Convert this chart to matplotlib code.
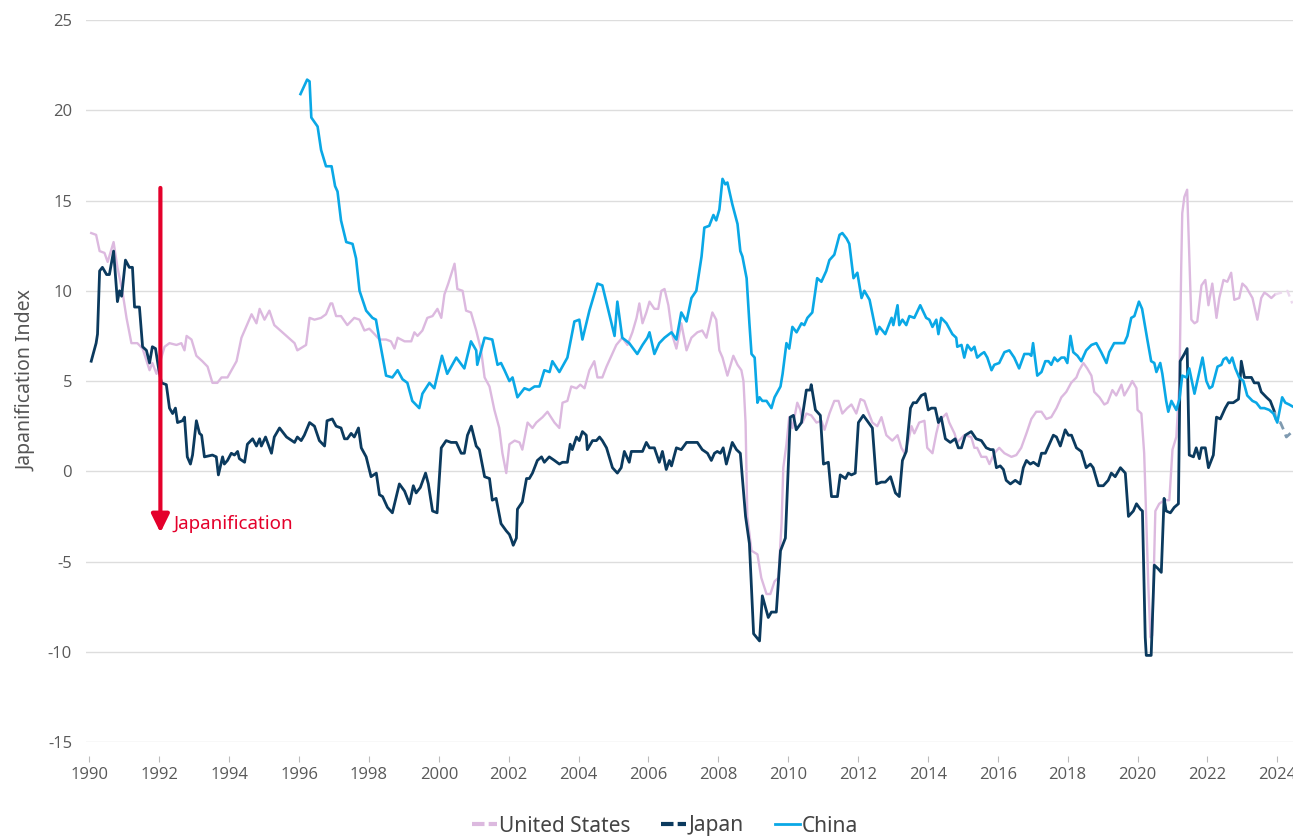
import matplotlib.pyplot as plt
from matplotlib.lines import Line2D

# readings (decimal year, index value)
us_dates = [1990.05, 1990.19, 1990.29, 1990.43, 1990.52, 1990.69, 1990.80, 1990.94, 1991.06, 1991.20,
            1991.37, 1991.52, 1991.72, 1991.80, 1991.92, 1992.15, 1992.29, 1992.49, 1992.63, 1992.72,
            1992.78, 1992.92, 1993.06, 1993.23, 1993.38, 1993.52, 1993.66, 1993.78, 1993.95, 1994.21,
            1994.35, 1994.64, 1994.78, 1994.87, 1995.01, 1995.15, 1995.29, 1995.58, 1995.87, 1995.95,
            1996.20, 1996.30, 1996.44, 1996.63, 1996.77, 1996.90, 1996.95, 1997.06, 1997.20, 1997.38,
            1997.58, 1997.73, 1997.87, 1998.01, 1998.16, 1998.30, 1998.49, 1998.63, 1998.73, 1998.82,
            1999.02, 1999.21, 1999.30, 1999.39, 1999.53, 1999.67, 1999.82, 1999.96, 2000.07, 2000.16,
            2000.27, 2000.45, 2000.53, 2000.68, 2000.78, 2000.92, 2001.07, 2001.21, 2001.31, 2001.45,
            2001.59, 2001.73, 2001.82, 2001.93, 2002.02, 2002.17, 2002.31, 2002.39, 2002.54, 2002.68,
            2002.79, 2002.97, 2003.11, 2003.31, 2003.45, 2003.54, 2003.68, 2003.79, 2003.94, 2004.05,
            2004.17, 2004.31, 2004.45, 2004.54, 2004.68, 2004.80, 2004.94, 2005.08, 2005.25, 2005.40,
            2005.54, 2005.66, 2005.74, 2005.83, 2005.94, 2006.03, 2006.17, 2006.28, 2006.37, 2006.46,
            2006.57, 2006.69, 2006.80, 2006.94, 2007.09, 2007.23, 2007.40, 2007.54, 2007.66, 2007.83,
            2007.94, 2008.03, 2008.12, 2008.26, 2008.43, 2008.55, 2008.66, 2008.72, 2008.78, 2008.83,
            2008.95, 2009.12, 2009.23, 2009.38, 2009.49, 2009.61, 2009.72, 2009.81, 2009.86, 2009.95,
            2010.03, 2010.12, 2010.26, 2010.35, 2010.41, 2010.52, 2010.66, 2010.81, 2010.95, 2011.04,
            2011.18, 2011.32, 2011.44, 2011.55, 2011.69, 2011.81, 2011.95, 2012.07, 2012.18, 2012.27,
            2012.41, 2012.55, 2012.67, 2012.81, 2012.98, 2013.13, 2013.24, 2013.33, 2013.44, 2013.53,
            2013.61, 2013.75, 2013.90, 2013.98, 2014.13, 2014.24, 2014.33, 2014.53, 2014.61, 2014.76,
            2014.84, 2015.04, 2015.24, 2015.33, 2015.41, 2015.53, 2015.67, 2015.76, 2015.90, 2016.04,
            2016.19, 2016.39, 2016.53, 2016.67, 2016.82, 2016.96, 2017.10, 2017.25, 2017.39, 2017.53,
            2017.68, 2017.82, 2017.96, 2018.10, 2018.25, 2018.33, 2018.45, 2018.56, 2018.68, 2018.76,
            2018.91, 2019.05, 2019.14, 2019.28, 2019.39, 2019.54, 2019.62, 2019.77, 2019.85, 2019.97,
            2020.00, 2020.11, 2020.19, 2020.25, 2020.31, 2020.37, 2020.42, 2020.51, 2020.62, 2020.77,
            2020.91, 2021.00, 2021.11, 2021.20, 2021.25, 2021.28, 2021.34, 2021.42, 2021.54, 2021.63,
            2021.71, 2021.83, 2021.94, 2022.03, 2022.14, 2022.26, 2022.34, 2022.46, 2022.57, 2022.68,
            2022.77, 2022.91, 2023.00, 2023.11, 2023.20, 2023.29, 2023.43, 2023.54, 2023.63, 2023.71,
            2023.83, 2023.94]
us_values = [13.2, 13.1, 12.2, 12.1, 11.6, 12.7, 11.3, 10.0, 8.5, 7.1,
             7.1, 6.8, 5.6, 6.0, 5.4, 6.9, 7.1, 7.0, 7.1, 6.7,
             7.5, 7.3, 6.4, 6.1, 5.8, 4.9, 4.9, 5.2, 5.2, 6.1,
             7.4, 8.7, 8.2, 9.0, 8.4, 8.9, 8.1, 7.6, 7.1, 6.7,
             7.0, 8.5, 8.4, 8.5, 8.7, 9.3, 9.3, 8.6, 8.6, 8.1,
             8.5, 8.4, 7.8, 7.9, 7.6, 7.3, 7.3, 7.2, 6.8, 7.4,
             7.2, 7.2, 7.7, 7.5, 7.8, 8.5, 8.6, 9.0, 8.5, 9.8,
             10.4, 11.5, 10.1, 10.0, 8.9, 8.8, 7.8, 6.7, 5.2, 4.7,
             3.4, 2.4, 1.0, -0.1, 1.5, 1.7, 1.6, 1.2, 2.7, 2.4,
             2.7, 3.0, 3.3, 2.7, 2.4, 3.8, 3.9, 4.7, 4.6, 4.8,
             4.6, 5.6, 6.1, 5.2, 5.2, 5.8, 6.4, 7.0, 7.4, 7.0,
             7.7, 8.5, 9.3, 8.2, 8.8, 9.4, 9.0, 9.0, 10.0, 10.1,
             9.2, 7.5, 6.8, 8.2, 6.7, 7.4, 7.7, 7.8, 7.4, 8.8,
             8.4, 6.7, 6.3, 5.3, 6.4, 5.9, 5.6, 5.0, 2.7, -2.5,
             -4.4, -4.6, -5.9, -6.8, -6.8, -6.1, -5.9, -2.9, 0.2, 1.5,
             3.0, 2.4, 3.8, 3.4, 2.7, 3.2, 3.1, 2.7, 2.8, 2.3,
             3.2, 3.9, 3.9, 3.2, 3.5, 3.7, 3.2, 4.0, 3.9, 3.4,
             2.7, 2.5, 3.0, 2.0, 1.7, 2.0, 1.3, 1.0, 1.7, 2.5,
             2.1, 2.7, 2.8, 1.3, 1.0, 2.1, 2.8, 3.2, 2.7, 2.1,
             1.6, 2.0, 1.9, 1.3, 1.3, 0.8, 0.8, 0.4, 1.0, 1.3,
             1.0, 0.8, 0.9, 1.3, 2.1, 2.9, 3.3, 3.3, 2.9, 3.0,
             3.5, 4.1, 4.4, 4.9, 5.2, 5.6, 6.0, 5.7, 5.3, 4.4,
             4.1, 3.7, 3.8, 4.5, 4.2, 4.8, 4.2, 4.7, 5.0, 4.6,
             3.4, 3.2, 1.0, -2.7, -6.4, -9.2, -9.1, -2.2, -1.8, -1.6,
             -1.6, 1.2, 1.9, 4.9, 11.3, 14.3, 15.2, 15.6, 8.4, 8.2,
             8.3, 10.3, 10.6, 9.2, 10.4, 8.5, 9.6, 10.6, 10.5, 11.0,
             9.5, 9.6, 10.4, 10.2, 9.9, 9.6, 8.4, 9.6, 9.9, 9.8,
             9.6, 9.8]
us_fc_dates = [2023.94, 2024.12, 2024.29, 2024.43]
us_fc_values = [9.8, 9.9, 10.0, 9.3]

japan_dates = [1990.05, 1990.19, 1990.23, 1990.29, 1990.37, 1990.49, 1990.57, 1990.69, 1990.80, 1990.86,
               1990.92, 1991.03, 1991.14, 1991.23, 1991.29, 1991.43, 1991.52, 1991.63, 1991.72, 1991.80,
               1991.89, 1991.97, 1992.06, 1992.20, 1992.29, 1992.38, 1992.46, 1992.52, 1992.66, 1992.72,
               1992.80, 1992.89, 1992.95, 1993.06, 1993.15, 1993.21, 1993.29, 1993.52, 1993.63, 1993.69,
               1993.81, 1993.86, 1993.95, 1994.06, 1994.15, 1994.24, 1994.29, 1994.44, 1994.52, 1994.67,
               1994.78, 1994.87, 1994.92, 1995.04, 1995.21, 1995.29, 1995.44, 1995.64, 1995.87, 1995.95,
               1996.06, 1996.15, 1996.30, 1996.44, 1996.58, 1996.73, 1996.80, 1996.95, 1997.06, 1997.20,
               1997.30, 1997.38, 1997.49, 1997.58, 1997.70, 1997.78, 1997.92, 1998.06, 1998.21, 1998.30,
               1998.39, 1998.53, 1998.67, 1998.87, 1999.02, 1999.16, 1999.27, 1999.35, 1999.47, 1999.62,
               1999.70, 1999.82, 1999.95, 2000.07, 2000.21, 2000.35, 2000.50, 2000.64, 2000.73, 2000.82,
               2000.93, 2001.07, 2001.16, 2001.31, 2001.45, 2001.53, 2001.64, 2001.78, 2001.93, 2002.02,
               2002.08, 2002.13, 2002.22, 2002.25, 2002.39, 2002.51, 2002.59, 2002.68, 2002.82, 2002.94,
               2003.02, 2003.16, 2003.31, 2003.45, 2003.54, 2003.68, 2003.76, 2003.82, 2003.94, 2004.02,
               2004.11, 2004.22, 2004.25, 2004.40, 2004.51, 2004.60, 2004.68, 2004.80, 2004.97, 2005.11,
               2005.22, 2005.31, 2005.45, 2005.51, 2005.68, 2005.83, 2005.94, 2006.03, 2006.17, 2006.31,
               2006.40, 2006.51, 2006.60, 2006.66, 2006.80, 2006.94, 2007.09, 2007.26, 2007.40, 2007.54,
               2007.69, 2007.80, 2007.89, 2007.97, 2008.06, 2008.14, 2008.23, 2008.40, 2008.52, 2008.63,
               2008.78, 2008.89, 2009.01, 2009.18, 2009.26, 2009.43, 2009.52, 2009.66, 2009.78, 2009.92,
               2010.06, 2010.15, 2010.23, 2010.38, 2010.52, 2010.63, 2010.66, 2010.78, 2010.92, 2011.01,
               2011.15, 2011.24, 2011.41, 2011.49, 2011.64, 2011.72, 2011.81, 2011.92, 2012.01, 2012.15,
               2012.30, 2012.41, 2012.53, 2012.67, 2012.78, 2012.93, 2013.07, 2013.18, 2013.27, 2013.38,
               2013.50, 2013.58, 2013.67, 2013.81, 2013.92, 2014.01, 2014.10, 2014.21, 2014.30, 2014.38,
               2014.50, 2014.64, 2014.78, 2014.87, 2014.96, 2015.07, 2015.24, 2015.38, 2015.53, 2015.67,
               2015.79, 2015.87, 2015.96, 2016.07, 2016.16, 2016.24, 2016.36, 2016.50, 2016.64, 2016.73,
               2016.82, 2016.93, 2017.02, 2017.16, 2017.25, 2017.36, 2017.50, 2017.59, 2017.68, 2017.79,
               2017.93, 2018.02, 2018.11, 2018.25, 2018.39, 2018.53, 2018.65, 2018.73, 2018.88, 2019.02,
               2019.16, 2019.25, 2019.36, 2019.51, 2019.65, 2019.74, 2019.88, 2019.97, 2020.08, 2020.14,
               2020.22, 2020.25, 2020.39, 2020.48, 2020.59, 2020.68, 2020.76, 2020.82, 2020.94, 2021.05,
               2021.17, 2021.22, 2021.34, 2021.42, 2021.48, 2021.60, 2021.68, 2021.77, 2021.83, 2021.94,
               2022.03, 2022.17, 2022.26, 2022.37, 2022.51, 2022.60, 2022.74, 2022.89, 2022.94, 2022.97,
               2023.06, 2023.17, 2023.26, 2023.34, 2023.46, 2023.54, 2023.69, 2023.80, 2023.92]
japan_values = [6.1, 7.1, 7.6, 11.1, 11.3, 10.9, 10.9, 12.2, 9.4, 10.0,
                9.7, 11.7, 11.3, 11.3, 9.1, 9.1, 6.9, 6.7, 6.0, 6.9,
                6.8, 5.8, 4.9, 4.8, 3.5, 3.2, 3.5, 2.7, 2.8, 3.0,
                0.8, 0.4, 0.9, 2.8, 2.1, 2.0, 0.8, 0.9, 0.8, -0.2,
                0.8, 0.4, 0.6, 1.0, 0.9, 1.1, 0.7, 0.5, 1.5, 1.8,
                1.4, 1.8, 1.4, 1.9, 1.0, 1.9, 2.4, 1.9, 1.6, 1.9,
                1.7, 2.0, 2.7, 2.5, 1.7, 1.4, 2.8, 2.9, 2.5, 2.4,
                1.8, 1.8, 2.1, 1.9, 2.4, 1.3, 0.8, -0.3, -0.1, -1.3,
                -1.4, -2.0, -2.3, -0.7, -1.1, -1.8, -0.8, -1.2, -0.9, -0.1,
                -0.7, -2.2, -2.3, 1.3, 1.7, 1.6, 1.6, 1.0, 1.0, 2.0,
                2.5, 1.4, 1.2, -0.3, -0.4, -1.6, -1.5, -2.9, -3.3, -3.5,
                -3.8, -4.1, -3.7, -2.1, -1.7, -0.4, -0.4, -0.1, 0.6, 0.8,
                0.5, 0.8, 0.6, 0.4, 0.5, 0.5, 1.5, 1.2, 1.9, 1.7,
                2.2, 2.0, 1.2, 1.7, 1.7, 1.9, 1.7, 1.3, 0.2, -0.1,
                0.2, 1.1, 0.5, 1.1, 1.1, 1.1, 1.6, 1.3, 1.3, 0.5,
                1.1, 0.1, 0.6, 0.3, 1.3, 1.2, 1.6, 1.6, 1.6, 1.2,
                1.0, 0.6, 1.0, 1.1, 1.0, 1.3, 0.4, 1.6, 1.2, 1.0,
                -2.5, -4.0, -9.0, -9.4, -6.9, -8.1, -7.8, -7.8, -4.4, -3.7,
                3.0, 3.1, 2.3, 2.7, 4.5, 4.5, 4.8, 3.4, 3.1, 0.4,
                0.5, -1.4, -1.4, -0.2, -0.4, -0.1, -0.2, -0.1, 2.7, 3.1,
                2.7, 2.4, -0.7, -0.6, -0.6, -0.3, -1.2, -1.4, 0.6, 1.1,
                3.5, 3.8, 3.8, 4.2, 4.3, 3.4, 3.5, 3.5, 2.7, 3.0,
                1.8, 1.6, 1.8, 1.3, 1.3, 2.0, 2.2, 1.8, 1.7, 1.3,
                1.2, 1.2, 0.2, 0.3, 0.1, -0.5, -0.7, -0.5, -0.7, 0.2,
                0.6, 0.4, 0.5, 0.3, 1.0, 1.0, 1.6, 2.0, 1.9, 1.4,
                2.3, 2.0, 2.0, 1.3, 1.1, 0.2, 0.4, 0.2, -0.8, -0.8,
                -0.5, -0.1, -0.3, 0.2, -0.1, -2.5, -2.2, -1.8, -2.1, -2.2,
                -9.2, -10.2, -10.2, -5.2, -5.4, -5.6, -1.5, -2.2, -2.3, -2.0,
                -1.8, 6.1, 6.5, 6.8, 0.9, 0.8, 1.3, 0.7, 1.3, 1.3,
                0.2, 0.9, 3.0, 2.9, 3.5, 3.8, 3.8, 4.0, 5.2, 6.1,
                5.2, 5.2, 5.2, 4.9, 4.9, 4.4, 4.1, 3.9, 3.3]
japan_fc_dates = [2023.92, 2023.98, 2024.09, 2024.18, 2024.26, 2024.43]
japan_fc_values = [3.3, 2.7, 2.7, 2.3, 1.9, 2.2]

china_dates = [1996.04, 1996.23, 1996.30, 1996.35, 1996.53, 1996.63, 1996.77, 1996.93, 1997.03, 1997.10,
               1997.20, 1997.35, 1997.53, 1997.63, 1997.73, 1997.92, 1998.10, 1998.20, 1998.30, 1998.49,
               1998.67, 1998.82, 1998.96, 1999.10, 1999.24, 1999.44, 1999.53, 1999.73, 1999.87, 2000.09,
               2000.24, 2000.50, 2000.73, 2000.92, 2001.07, 2001.10, 2001.31, 2001.53, 2001.68, 2001.78,
               2001.88, 2002.02, 2002.11, 2002.25, 2002.45, 2002.59, 2002.74, 2002.88, 2003.02, 2003.17,
               2003.25, 2003.45, 2003.68, 2003.88, 2004.02, 2004.11, 2004.31, 2004.54, 2004.68, 2004.83,
               2005.03, 2005.11, 2005.25, 2005.45, 2005.68, 2005.83, 2005.97, 2006.03, 2006.17, 2006.31,
               2006.46, 2006.66, 2006.80, 2006.94, 2007.09, 2007.23, 2007.37, 2007.52, 2007.60, 2007.74,
               2007.86, 2007.94, 2008.03, 2008.12, 2008.20, 2008.26, 2008.40, 2008.55, 2008.63, 2008.69,
               2008.81, 2008.89, 2008.95, 2009.04, 2009.12, 2009.18, 2009.26, 2009.38, 2009.52, 2009.61,
               2009.78, 2009.84, 2009.95, 2010.03, 2010.12, 2010.24, 2010.38, 2010.46, 2010.55, 2010.69,
               2010.83, 2010.95, 2011.09, 2011.18, 2011.32, 2011.47, 2011.55, 2011.67, 2011.75, 2011.87,
               2011.98, 2012.10, 2012.18, 2012.33, 2012.53, 2012.61, 2012.78, 2012.96, 2013.01, 2013.13,
               2013.18, 2013.27, 2013.38, 2013.47, 2013.61, 2013.78, 2013.95, 2014.04, 2014.13, 2014.24,
               2014.30, 2014.38, 2014.53, 2014.70, 2014.81, 2014.84, 2014.96, 2015.04, 2015.13, 2015.24,
               2015.33, 2015.41, 2015.53, 2015.61, 2015.70, 2015.82, 2015.90, 2016.04, 2016.19, 2016.33,
               2016.47, 2016.61, 2016.76, 2016.90, 2016.96, 2017.01, 2017.13, 2017.25, 2017.36, 2017.45,
               2017.53, 2017.62, 2017.71, 2017.82, 2017.91, 2017.99, 2018.08, 2018.16, 2018.28, 2018.39,
               2018.53, 2018.68, 2018.82, 2018.96, 2019.11, 2019.19, 2019.33, 2019.48, 2019.62, 2019.71,
               2019.82, 2019.91, 2020.04, 2020.13, 2020.28, 2020.39, 2020.48, 2020.54, 2020.65, 2020.71,
               2020.82, 2020.88, 2020.97, 2021.11, 2021.20, 2021.28, 2021.40, 2021.48, 2021.63, 2021.71,
               2021.86, 2021.97, 2022.06, 2022.14, 2022.29, 2022.40, 2022.46, 2022.54, 2022.63, 2022.71,
               2022.80, 2022.91, 2023.03, 2023.14, 2023.29, 2023.40, 2023.52, 2023.63, 2023.77, 2023.89,
               2024.00, 2024.14, 2024.23, 2024.34, 2024.43]
china_values = [20.9, 21.7, 21.6, 19.6, 19.1, 17.8, 16.9, 16.9, 15.8, 15.5,
                13.9, 12.7, 12.6, 11.8, 10.0, 8.9, 8.5, 8.4, 7.3, 5.3,
                5.2, 5.6, 5.1, 4.9, 3.9, 3.5, 4.3, 4.9, 4.6, 6.4,
                5.4, 6.3, 5.7, 7.2, 6.7, 5.9, 7.4, 7.3, 5.9, 6.0,
                5.6, 5.0, 5.2, 4.1, 4.6, 4.5, 4.7, 4.7, 5.6, 5.5,
                6.1, 5.5, 6.3, 8.3, 8.4, 7.3, 8.9, 10.4, 10.3, 9.1,
                7.5, 9.4, 7.4, 7.1, 6.5, 7.0, 7.4, 7.7, 6.5, 7.1,
                7.4, 7.7, 7.3, 8.8, 8.3, 9.6, 10.0, 11.9, 13.5, 13.6,
                14.2, 13.9, 14.5, 16.2, 15.9, 16.0, 14.8, 13.7, 12.2, 11.9,
                10.7, 8.2, 6.5, 6.3, 3.8, 4.1, 3.9, 3.9, 3.5, 4.1,
                4.7, 5.4, 7.1, 6.8, 8.0, 7.7, 8.2, 8.1, 8.5, 8.8,
                10.7, 10.5, 11.1, 11.7, 12.0, 13.1, 13.2, 12.9, 12.6, 10.7,
                11.0, 9.6, 10.0, 9.5, 7.6, 8.0, 7.6, 8.5, 8.1, 9.2,
                8.1, 8.4, 8.1, 8.6, 8.5, 9.2, 8.5, 8.4, 8.0, 8.4,
                7.6, 8.5, 8.2, 7.6, 7.4, 6.9, 7.0, 6.3, 7.0, 6.7,
                6.9, 6.3, 6.5, 6.6, 6.3, 5.6, 5.9, 6.0, 6.6, 6.7,
                6.3, 5.7, 6.5, 6.5, 6.4, 7.1, 5.3, 5.5, 6.1, 6.1,
                5.9, 6.3, 6.1, 6.3, 6.3, 6.0, 7.5, 6.6, 6.4, 6.1,
                6.7, 7.0, 7.1, 6.6, 6.0, 6.6, 7.1, 7.1, 7.1, 7.5,
                8.5, 8.6, 9.4, 9.0, 7.3, 6.1, 6.0, 5.5, 6.0, 5.4,
                3.9, 3.3, 3.9, 3.4, 4.0, 5.3, 5.2, 5.7, 4.3, 5.0,
                6.3, 5.0, 4.6, 4.7, 5.8, 5.9, 6.2, 6.3, 6.0, 6.3,
                5.7, 5.2, 5.0, 4.2, 3.9, 3.8, 3.5, 3.5, 3.4, 3.2,
                2.7, 4.1, 3.8, 3.7, 3.6]

year_ticks = list(range(1990, 2025, 2))
value_ticks = list(range(-15, 30, 5))

us_color = '#dcb9df'
us_fc_color = '#ecd9ee'
japan_color = '#0b3a5e'
japan_fc_color = '#7f9ab0'
china_color = '#0aa8e6'
red = '#e4002b'

fig = plt.figure(figsize=(12.93, 8.36), dpi=100)
ax = fig.add_axes([0.0665, 0.1124, 0.9335, 0.8636])

ax.plot(us_dates, us_values, color=us_color, lw=1.7, zorder=3)
ax.plot(us_fc_dates, us_fc_values, color=us_fc_color, lw=1.7, ls=(0, (3, 2)), zorder=3)
ax.plot(japan_dates, japan_values, color=japan_color, lw=2.0, zorder=4)
ax.plot(japan_fc_dates, japan_fc_values, color=japan_fc_color, lw=2.0, ls=(0, (3, 2)), zorder=4)
ax.plot(china_dates, china_values, color=china_color, lw=1.9, zorder=5)

ax.set_xlim(1989.9, 2024.45)
ax.set_ylim(-15, 25)
ax.set_xticks(year_ticks)
ax.set_xticklabels([str(y) for y in year_ticks])
ax.set_yticks(value_ticks)
ax.set_yticklabels([str(v) for v in value_ticks])

for s in ['top', 'right', 'left']:
    ax.spines[s].set_visible(False)
ax.spines['bottom'].set_position(('outward', 10))
ax.spines['bottom'].set_visible(False)
ax.grid(axis='y', color='#dddddd', lw=1)
ax.set_axisbelow(True)
ax.tick_params(axis='y', length=0, pad=10, labelsize=12, labelcolor='#595959')
ax.tick_params(axis='x', length=4, color='#bbbbbb', pad=4, labelsize=12, labelcolor='#595959')
for lab in ax.get_xticklabels() + ax.get_yticklabels():
    lab.set_family(['Open Sans', 'DejaVu Sans'])

ax.set_ylabel('Japanification Index', fontsize=14, color='#555555',
              family=['Liberation Sans Narrow', 'Noto Sans', 'DejaVu Sans'], labelpad=8)

# the red arrow
ax.annotate('', xy=(1992.03, -3.4), xytext=(1992.03, 15.7),
            arrowprops=dict(arrowstyle='-|>,head_width=0.27,head_length=0.55', mutation_scale=20,
                            color=red, lw=3, shrinkA=0, shrinkB=0), zorder=6)
ax.text(1992.4, -2.9, 'Japanification', color=red, fontsize=13.5, va='center', ha='left',
        family=['Noto Sans', 'DejaVu Sans'], zorder=6)

handles = [Line2D([], [], color=us_color, lw=3, ls=(0, (3, 1))),
           Line2D([], [], color=japan_color, lw=3, ls=(0, (3, 1))),
           Line2D([], [], color=china_color, lw=2)]
leg = fig.legend(handles, ['United States', 'Japan', 'China'], loc='center',
                 bbox_to_anchor=(665 / 1293, 1 - 826 / 836), ncol=3, frameon=False,
                 handlelength=1.2, handletextpad=0.1, columnspacing=1.5,
                 labelcolor='#444444', prop={'family': ['Noto Sans', 'DejaVu Sans'], 'size': 15})

fig.savefig('out.png', dpi=100)
